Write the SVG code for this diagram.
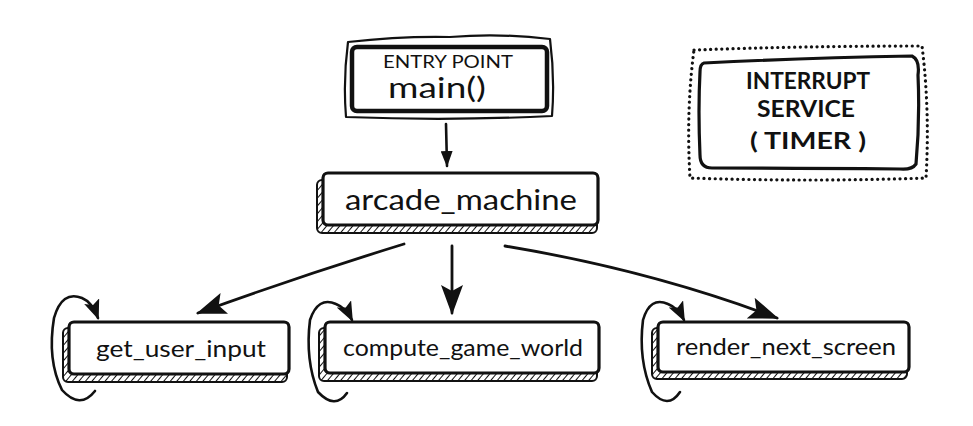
<svg xmlns="http://www.w3.org/2000/svg" width="973" height="426" viewBox="0 0 973 426">
<style>
.ln{fill:none;stroke:#111;stroke-linecap:round;stroke-linejoin:round}
.box{fill:#fff;stroke:#111;stroke-width:3.2;stroke-linejoin:round}
.t{font-family:"Lato","Open Sans","DejaVu Sans",sans-serif;fill:#111;text-anchor:middle}
.cap{font-family:"Lato","Open Sans","DejaVu Sans",sans-serif;font-weight:bold;fill:#111;text-anchor:middle}
</style>
<defs>
<pattern id="hatch" width="5" height="5" patternUnits="userSpaceOnUse" patternTransform="rotate(40)">
<rect width="5" height="5" fill="#fff"/>
<line x1="0" y1="0" x2="0" y2="5" stroke="#111" stroke-width="2"/>
</pattern>
<marker id="ah" markerUnits="userSpaceOnUse" viewBox="0 0 30 22" refX="28" refY="11" markerWidth="30" markerHeight="22" orient="auto">
<path d="M0,0 L30,11 L0,22 L6,11 Z" fill="#111"/>
</marker>
<marker id="ahs" markerUnits="userSpaceOnUse" viewBox="0 0 16 12" refX="15" refY="6" markerWidth="16" markerHeight="12" orient="auto">
<path d="M0,0 L16,6 L0,12 Z" fill="#111"/>
</marker>
<marker id="ahl" markerUnits="userSpaceOnUse" viewBox="0 0 20 16" refX="18" refY="8" markerWidth="20" markerHeight="16" orient="auto">
<path d="M0,0 L20,8 L0,16 L4,8 Z" fill="#111"/>
</marker>
</defs>
<rect width="973" height="426" fill="#fff"/>

<g id="entry">
<path class="ln" stroke-width="2.2" d="M348,42 Q400,36 450,37 Q500,33 550,39 Q555,78 552,116 Q450,121 346,117 Q343,80 348,42 Z"/>
<rect x="352" y="47" width="195" height="64" rx="5" fill="#fff" stroke="#111" stroke-width="4.5"/>
<text class="t" x="448" y="68" font-size="17" textLength="130" lengthAdjust="spacingAndGlyphs">ENTRY POINT</text>
<text class="t" x="437" y="98" font-size="28" textLength="98" lengthAdjust="spacingAndGlyphs">main()</text>
</g>

<g id="interrupt">
<path class="ln" stroke-width="3.2" stroke-dasharray="0.1 5.5" d="M694,50 Q800,46 922,46 Q930,110 926,178 Q810,182 690,178 Q686,110 694,50 Z"/>
<path class="box" d="M704,63 Q800,58 912,56 Q920,60 918,75 Q920,120 916,164 Q912,170 900,169 Q800,168 712,168 Q700,168 700,155 Q698,110 700,72 Q700,64 704,63 Z"/>
<text class="cap" x="808" y="89" font-size="22" textLength="124" lengthAdjust="spacingAndGlyphs">INTERRUPT</text>
<text class="cap" x="806" y="117" font-size="22" textLength="98" lengthAdjust="spacingAndGlyphs">SERVICE</text>
<text class="cap" x="808" y="149" font-size="22" textLength="116" lengthAdjust="spacingAndGlyphs">( TIMER )</text>
</g>

<g id="arcade_machine">
<rect x="317" y="180" width="280" height="53" rx="5" fill="url(#hatch)" stroke="#111" stroke-width="2"/>
<rect class="box" x="323" y="173" width="275" height="52" rx="5"/>
<text class="t" x="461" y="210" font-size="29" textLength="232" lengthAdjust="spacingAndGlyphs">arcade_machine</text>
</g>

<g id="get_user_input">
<rect x="63" y="328" width="224" height="54" rx="5" fill="url(#hatch)" stroke="#111" stroke-width="2"/>
<rect class="box" x="69" y="322" width="220" height="52" rx="5"/>
<text class="t" x="181" y="357" font-size="23" textLength="170" lengthAdjust="spacingAndGlyphs">get_user_input</text>
</g>

<g id="compute_game_world">
<rect x="319" y="328" width="278" height="53" rx="5" fill="url(#hatch)" stroke="#111" stroke-width="2"/>
<rect class="box" x="325" y="322" width="274" height="51" rx="5"/>
<text class="t" x="463" y="356" font-size="23" textLength="240" lengthAdjust="spacingAndGlyphs">compute_game_world</text>
</g>

<g id="render_next_screen">
<rect x="652" y="328" width="255" height="51" rx="5" fill="url(#hatch)" stroke="#111" stroke-width="2"/>
<rect class="box" x="658" y="322" width="251" height="50" rx="5"/>
<text class="t" x="786" y="355" font-size="23" textLength="220" lengthAdjust="spacingAndGlyphs">render_next_screen</text>
</g>

<g id="connectors">
<path class="ln" stroke-width="2.6" d="M446,124 L447,166" marker-end="url(#ahs)"/>
<path class="ln" stroke-width="2.8" d="M404,244 Q300,276 198,313" marker-end="url(#ah)"/>
<path class="ln" stroke-width="2.8" d="M452,246 L452,313" marker-end="url(#ah)"/>
<path class="ln" stroke-width="2.8" d="M505,246 Q650,270 777,318" marker-end="url(#ah)"/>
<path class="ln" stroke-width="2.6" d="M95,391 Q80,410 62,390 Q47,360 54,318 Q62,290 82,298 Q92,302 98,318" marker-end="url(#ahl)"/>
<path class="ln" stroke-width="2.6" d="M347,393 Q335,410 318,392 Q305,360 310,320 Q318,296 336,304 Q346,308 352,320" marker-end="url(#ahl)"/>
<path class="ln" stroke-width="2.6" d="M680,392 Q668,410 652,392 Q638,360 643,320 Q650,296 668,304 Q678,308 684,320" marker-end="url(#ahl)"/>
</g>
</svg>
